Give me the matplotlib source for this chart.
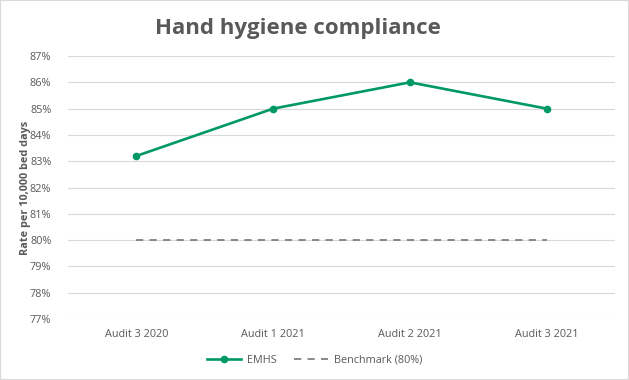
import matplotlib
matplotlib.use('Agg')
import matplotlib.pyplot as plt
from matplotlib.ticker import PercentFormatter
from matplotlib.patches import Rectangle

plt.rcParams['font.family'] = ['Open Sans', 'DejaVu Sans']

# chart data
categories = ['Audit 3 2020', 'Audit 1 2021', 'Audit 2 2021', 'Audit 3 2021']
emhs = [83.2, 85.0, 86.0, 85.0]
benchmark = [80, 80, 80, 80]

grey = '#595959'
green = '#009966'

fig = plt.figure(figsize=(6.29, 3.8), dpi=100)
fig.patches.append(Rectangle((0, 0), 1, 1, transform=fig.transFigure, fill=False,
                             edgecolor='#d9d9d9', linewidth=1.5))
ax = fig.add_axes([0.108, 0.1605, 0.870, 0.692])

x = range(len(categories))
ax.plot(x, emhs, color=green, linewidth=1.9, marker='o', markersize=4.5, label='EMHS')
ax.plot(x, benchmark, color='#7f7f7f', linewidth=1.3, linestyle=(0, (4, 3.5)),
        label='Benchmark (80%)')

ax.set_xlim(-0.5, len(categories) - 0.5)
ax.set_ylim(77, 87)
ax.set_yticks(range(77, 88))
ax.yaxis.set_major_formatter(PercentFormatter(decimals=0))
ax.set_xticks(list(x))
ax.set_xticklabels(categories)
ax.grid(axis='y', color='#d9d9d9', linewidth=0.8)
ax.set_axisbelow(True)
for s in ax.spines.values():
    s.set_visible(False)
ax.tick_params(length=0, labelsize=7.8, colors=grey, pad=7)
ax.tick_params(axis='y', pad=12)

ax.set_ylabel('Rate per 10,000 bed days', fontsize=7.8, fontweight='bold', color=grey, labelpad=-1)
fig.text(0.473, 0.925, 'Hand hygiene compliance', ha='center', va='center',
         fontsize=16, fontweight='bold', color=grey)

fig.legend(loc='center', bbox_to_anchor=(0.5, 0.052), ncol=2, frameon=False,
           fontsize=7.8, labelcolor=grey, handlelength=3.2, handletextpad=0.5,
           columnspacing=1.6)

fig.savefig('out.png', dpi=100)
